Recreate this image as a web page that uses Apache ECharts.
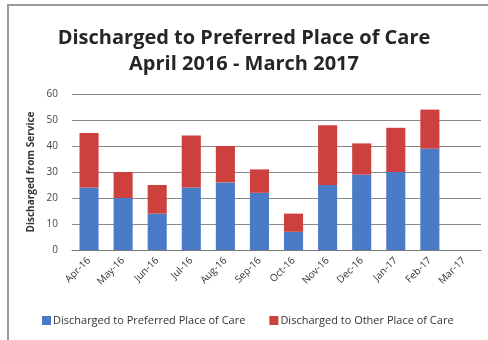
<!DOCTYPE html>
<html>
<head>
<meta charset="utf-8">
<script src="https://cdn.jsdelivr.net/npm/echarts@6/dist/echarts.min.js"></script>
<style>
  html, body { margin: 0; padding: 0; background: #fff; }
  #chart { width: 488px; height: 340px; }
</style>
</head>
<body>
<div id="chart"></div>
<script>
// Monthly discharges, April 2016 - March 2017
const months = ['Apr-16', 'May-16', 'Jun-16', 'Jul-16', 'Aug-16', 'Sep-16',
                'Oct-16', 'Nov-16', 'Dec-16', 'Jan-17', 'Feb-17', 'Mar-17'];
const preferredPlace = [24, 20, 14, 24, 26, 22, 7, 25, 29, 30, 39, null];
const otherPlace     = [21, 10, 11, 20, 14, 9, 7, 23, 12, 17, 15, null];
const yTicks = [0, 10, 20, 30, 40, 50, 60];

const chart = echarts.init(document.getElementById('chart'), null, { renderer: 'canvas' });

const font = 'Open Sans, Liberation Sans, sans-serif';

chart.setOption({
  animation: false,
  backgroundColor: '#fff',
  title: {
    text: 'Discharged to Preferred Place of Care\nApril 2016 - March 2017',
    left: 'center',
    top: 20,
    padding: [5, 5, 5, 17],
    textStyle: {
      fontFamily: font,
      fontWeight: 'bold',
      fontSize: 20,
      lineHeight: 26,
      color: '#262626'
    }
  },
  graphic: [{
    type: 'rect',
    shape: { x: 8, y: 5, width: 520, height: 380 },
    style: { fill: 'none', stroke: '#9a9a9a', lineWidth: 2 },
    silent: true
  }],
  grid: { left: 72, right: 7, top: 94, bottom: 90 },
  legend: {
    bottom: 9,
    left: 37,
    itemWidth: 9,
    itemHeight: 9,
    itemGap: 24,
    icon: 'rect',
    textStyle: { fontFamily: font, fontSize: 11, color: '#333', padding: [0, 0, 0, -3] },
    data: ['Discharged to Preferred Place of Care', 'Discharged to Other Place of Care']
  },
  xAxis: {
    type: 'category',
    data: months,
    axisLine: { lineStyle: { color: '#777' } },
    axisTick: { show: false },
    axisLabel: {
      rotate: 45,
      fontFamily: font,
      fontSize: 10,
      color: '#333',
      margin: 9,
      interval: 0
    }
  },
  yAxis: {
    type: 'value',
    min: yTicks[0],
    max: yTicks[yTicks.length - 1],
    interval: 10,
    name: 'Discharged from Service',
    nameLocation: 'middle',
    nameGap: 36,
    nameTextStyle: { fontFamily: font, fontSize: 10, fontWeight: 'bold', color: '#333' },
    axisLine: { show: false },
    axisTick: { show: false },
    axisLabel: { fontFamily: font, fontSize: 10, color: '#444', margin: 14 },
    splitLine: { lineStyle: { color: '#8a8a8a', width: 1 } }
  },
  series: [
    {
      name: 'Discharged to Preferred Place of Care',
      type: 'bar',
      stack: 'total',
      barWidth: '56%',
      itemStyle: { color: '#4a7bc6' },
      data: preferredPlace
    },
    {
      name: 'Discharged to Other Place of Care',
      type: 'bar',
      stack: 'total',
      barWidth: '56%',
      itemStyle: { color: '#cc403d' },
      data: otherPlace
    }
  ]
});
</script>
</body>
</html>
